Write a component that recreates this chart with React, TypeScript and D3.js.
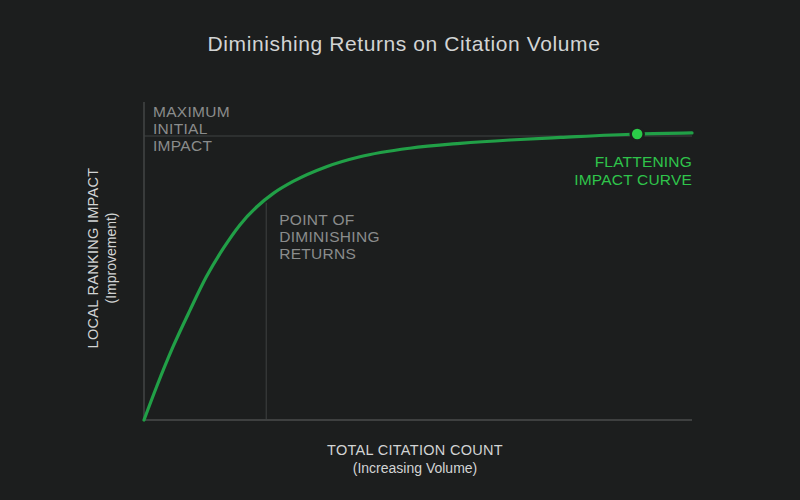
import { useEffect, useRef } from "react"
import * as d3 from "d3"

// citation volume (0-100) vs ranking impact (0-100, 100 = max initial impact line)
const volume = [0, 2.3, 5.3, 8.4, 11.4, 14.5, 17.5, 20.6, 23.6, 27.2, 33.3, 39.4, 48.5, 57.7, 66.8, 76, 90, 100]
const impact = [0, 11.7, 25.8, 38.7, 50.5, 60.5, 68.7, 75.1, 79.8, 84.0, 89.2, 92.7, 95.7, 97.4, 98.6, 99.5, 100.7, 101.1]
const maxImpact = 100
const diminishingAt = 22.3
const flatteningAt = 90
const title = "Diminishing Returns on Citation Volume"
const xLabel = ["TOTAL CITATION COUNT", "(Increasing Volume)"]
const yLabel = ["LOCAL RANKING IMPACT", "(Improvement)"]
const maxLabel = ["MAXIMUM", "INITIAL", "IMPACT"]
const pointLabel = ["POINT OF", "DIMINISHING", "RETURNS"]
const flatLabel = ["FLATTENING", "IMPACT CURVE"]

const C = { bg: "#1c1e1e", axis: "#4a4c4c", ref: "#3f4242", muted: "#8a8c8c", text: "#d2d4d4", curve: "#21a047", dot: "#2bcc48", green: "#2fc44b" }
const FONT = "'Helvetica Neue', 'Liberation Sans', Arial, sans-serif"

export default function App() {
  const ref = useRef<SVGSVGElement>(null)
  useEffect(() => {
    document.body.style.margin = "0"
    document.body.style.background = C.bg
    if (!ref.current) return
    const svg = d3.select(ref.current)
    svg.selectAll("*").remove()
    const m = { left: 144, right: 108, top: 102 }
    const x = d3.scaleLinear().domain([0, 100]).range([m.left, 800 - m.right])
    const y = d3.scaleLinear().domain([0, 100]).range([420, 136])
    const data = volume.map((v, i) => ({ v, p: impact[i] }))
    const curve = d3.line<any>().x(d => x(d.v)).y(d => y(d.p)).curve(d3.curveMonotoneX)
    const path = svg.append("path").datum(data).attr("fill", "none").attr("stroke", C.curve).attr("stroke-width", 3.2)
      .attr("stroke-linecap", "round").attr("d", curve)
    const node = path.node()!
    const len = node.getTotalLength()
    const yAt = (xv: number) => {
      let lo = 0, hi = len
      for (let k = 0; k < 40; k++) { const mid = (lo + hi) / 2; if (node.getPointAtLength(mid).x < x(xv)) lo = mid; else hi = mid }
      return node.getPointAtLength(lo).y
    }

    // axes
    svg.insert("line", "path").attr("x1", x(0)).attr("x2", x(0)).attr("y1", m.top).attr("y2", y(0)).attr("stroke", C.axis).attr("stroke-width", 1.3)
    svg.insert("line", "path").attr("x1", x(0)).attr("x2", x(100)).attr("y1", y(0)).attr("y2", y(0)).attr("stroke", C.axis).attr("stroke-width", 1.3)
    // reference lines
    svg.insert("line", "path").attr("x1", x(0)).attr("x2", x(100)).attr("y1", y(maxImpact)).attr("y2", y(maxImpact)).attr("stroke", C.ref).attr("stroke-width", 1)
    svg.insert("line", "path").attr("x1", x(diminishingAt)).attr("x2", x(diminishingAt)).attr("y1", yAt(diminishingAt) + 4).attr("y2", y(0)).attr("stroke", C.ref).attr("stroke-width", 1)

    // flattening dot
    svg.append("circle").attr("cx", x(flatteningAt)).attr("cy", yAt(flatteningAt)).attr("r", 6.5).attr("fill", C.dot)
      .attr("stroke", C.bg).attr("stroke-width", 2.5)

    const lines = (arr: string[], tx: number, ty: number, gap: number, anchor: string, fill: string, size: number, ls = 0) =>
      arr.forEach((s, i) => svg.append("text").attr("x", tx).attr("y", ty + i * gap).attr("text-anchor", anchor)
        .style("fill", fill).style("font-size", `${size}px`).style("letter-spacing", `${ls}px`).style("font-family", FONT).text(s))

    lines([title], 404, 51, 0, "middle", C.text, 21, 0.6)
    lines(maxLabel, x(0) + 9, 117, 17, "start", C.muted, 15.5, 0.3)
    lines(pointLabel, x(diminishingAt) + 13, 225, 17, "start", C.muted, 15.5, 0.3)
    lines(flatLabel, x(100), 167, 17.5, "end", C.green, 15.5, 0.2)
    lines(xLabel.slice(0, 1), 415, 455, 0, "middle", C.text, 14.5, 0.3)
    lines(xLabel.slice(1), 415, 473, 0, "middle", C.text, 14, 0)

    const yl = svg.append("g").attr("transform", "translate(98,258) rotate(-90)")
    yLabel.forEach((s, i) => yl.append("text").attr("x", 0).attr("y", i * 18).attr("text-anchor", "middle")
      .style("fill", C.text).style("font-size", i ? "14px" : "14.5px").style("letter-spacing", i ? "0px" : "0.3px")
      .style("font-family", FONT).text(s))
  }, [])
  return <svg ref={ref} width={800} height={500} style={{ display: "block", background: C.bg }} />
}
